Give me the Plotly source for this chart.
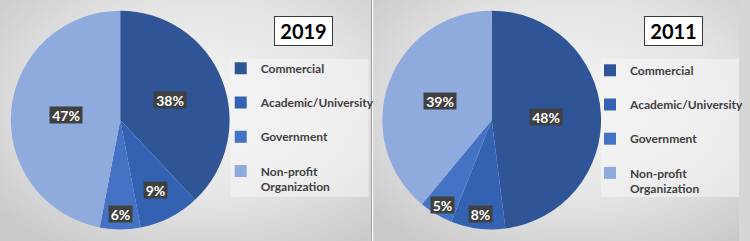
import base64
import math
import plotly.graph_objects as go

# ---------------- data ----------------
categories = ["Commercial", "Academic/University", "Government", "Non-profit Organization"]
years = ["2019", "2011"]
values_2019 = [38, 9, 6, 47]
values_2011 = [48, 8, 5, 39]
label_text_2019 = ["38%", "9%", "6%", "47%"]
label_text_2011 = ["48%", "8%", "5%", "39%"]

# ---------------- style ----------------
W, H = 750, 241
colors = ["#2F5597", "#3462B2", "#4472C4", "#8FAADC"]
FONT = "Lato"
label_radius_2019 = [0.49, 0.71, 0.85, 0.50]   # fraction of radius for data labels
label_radius_2011 = [0.50, 0.85, 0.89, 0.50]

panels = [
    dict(x0=0, x1=376, cx=122, year=years[0], vals=values_2019, txt=label_text_2019,
         lr=label_radius_2019, legend="legend", box_x=234, title_cx=308.5, uniq=""),
    dict(x0=379, x1=750, cx=499, year=years[1], vals=values_2011, txt=label_text_2011,
         lr=label_radius_2011, legend="legend2", box_x=610, title_cx=683.5, uniq="\u200b"),
]
CY, R = 120, 111


def legend_label(name, uniq):
    if name.startswith("Non-profit"):
        a, b = name.split(" ", 1)
        return a + "<br>" + b + uniq
    return name + uniq + "<br>\u00a0"


def gradient_uri(w, h):
    svg = (
        f"<svg xmlns='http://www.w3.org/2000/svg' width='{w}' height='{h}' "
        f"viewBox='0 0 {w} {h}' preserveAspectRatio='none'>"
        "<defs><radialGradient id='g' cx='0.55' cy='0.42' r='0.72'>"
        "<stop offset='0' stop-color='#f4f4f4'/>"
        "<stop offset='0.55' stop-color='#e5e5e5'/>"
        "<stop offset='1' stop-color='#cacaca'/>"
        "</radialGradient></defs>"
        f"<rect x='0' y='0' width='{w}' height='{h}' fill='url(#g)'/></svg>"
    )
    return "data:image/svg+xml;base64," + base64.b64encode(svg.encode()).decode()


fig = go.Figure()
annotations, shapes, images = [], [], []

for p in panels:
    # background panel
    images.append(dict(source=gradient_uri(p["x1"] - p["x0"], H), xref="paper", yref="paper",
                       x=p["x0"] / W, y=1, sizex=(p["x1"] - p["x0"]) / W, sizey=1,
                       sizing="stretch", layer="below", xanchor="left", yanchor="top"))
    fig.add_trace(go.Pie(
        labels=[legend_label(c, p["uniq"]) for c in categories],
        values=p["vals"],
        customdata=categories,
        sort=False,
        direction="clockwise",
        rotation=0,
        marker=dict(colors=colors, line=dict(width=0)),
        textinfo="none",
        hovertemplate="%{customdata}: %{percent}<extra>" + p["year"] + "</extra>",
        domain=dict(x=[(p["cx"] - R) / W, (p["cx"] + R) / W],
                    y=[1 - (CY + R) / H, 1 - (CY - R) / H]),
        legend=p["legend"],
        showlegend=True,
    ))
    # data labels
    total = sum(p["vals"])
    cum = 0
    for v, t, f in zip(p["vals"], p["txt"], p["lr"]):
        a = 2 * math.pi * (cum + v / 2) / total
        cum += v
        px = p["cx"] + f * R * math.sin(a)
        py = CY - f * R * math.cos(a)
        annotations.append(dict(
            x=px / W, y=1 - py / H, xref="paper", yref="paper", text=t, showarrow=False,
            font=dict(family=FONT, size=14, color="white", weight="bold"),
            bgcolor="#404040", borderpad=0, width=9 * len(t) + 5, height=16,
            xanchor="center", yanchor="middle"))
    # title box
    annotations.append(dict(
        x=p["title_cx"] / W, y=1 - 31 / H, xref="paper", yref="paper", text=p["year"],
        showarrow=False, font=dict(family=FONT, size=20, color="black", weight="bold"),
        bgcolor="white", bordercolor="#3a3a3a", borderwidth=1, borderpad=1,
        width=55, height=26, xanchor="center", yanchor="middle"))
    # legend background box
    shapes.append(dict(type="rect", xref="paper", yref="paper",
                       x0=p["box_x"] / W, x1=(p["box_x"] + 140) / W,
                       y0=1 - 197 / H, y1=1 - 59 / H,
                       fillcolor="rgba(245,245,245,0.55)", line=dict(width=0), layer="below"))

# separator between panels
shapes.append(dict(type="line", xref="paper", yref="paper", x0=377 / W, x1=377 / W, y0=0, y1=1,
                   line=dict(color="#9a9a9a", width=1)))
shapes.append(dict(type="line", xref="paper", yref="paper", x0=378 / W, x1=378 / W, y0=0, y1=1,
                   line=dict(color="#ffffff", width=1)))

legend_style = dict(xanchor="left", yanchor="top", bgcolor="rgba(0,0,0,0)", valign="top",
                    font=dict(family=FONT, size=12, color="#404040", weight="bold"),
                    traceorder="normal", itemclick=False, itemdoubleclick=False)

fig.update_layout(
    width=W, height=H,
    margin=dict(l=0, r=0, t=0, b=0),
    paper_bgcolor="#d6d6d6",
    plot_bgcolor="rgba(0,0,0,0)",
    images=images,
    shapes=shapes,
    annotations=annotations,
    legend=dict(x=224 / W, y=1 - 54 / H, **legend_style),
    legend2=dict(x=599 / W, y=1 - 56 / H, **legend_style),
)

fig.write_html("out.html", config={"displayModeBar": False},
               post_script="document.body.style.margin='0';")
